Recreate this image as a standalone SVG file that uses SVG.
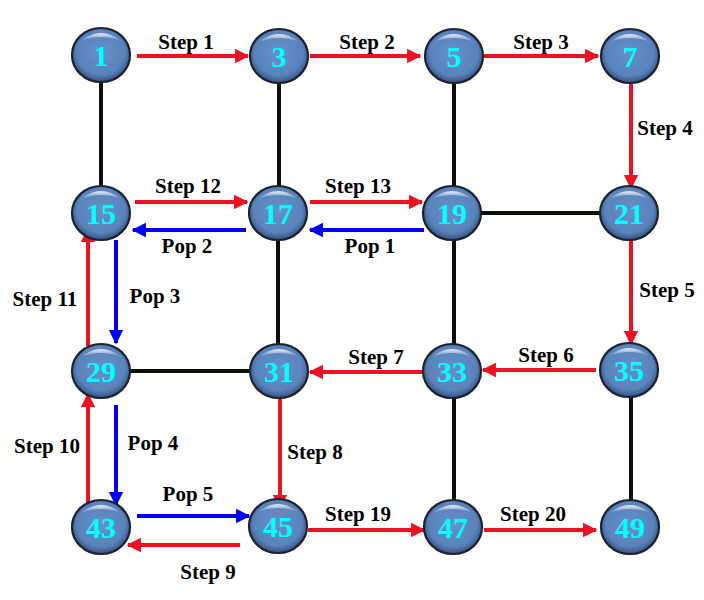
<svg xmlns="http://www.w3.org/2000/svg" width="704" height="600" viewBox="0 0 704 600">
<style>
.edge{stroke:#0a0f05;stroke-width:4;fill:none}
.red{stroke:#ee1122;stroke-width:4;fill:none;marker-end:url(#ah-red)}
.blue{stroke:#0000ff;stroke-width:4;fill:none;marker-end:url(#ah-blue)}
.lbl{font-family:"Liberation Serif","Times New Roman",serif;font-weight:bold;font-size:21px;fill:#000;text-anchor:middle}
.num{font-family:"Liberation Serif","Times New Roman",serif;font-weight:bold;font-size:30px;fill:#00ffff;text-anchor:middle}
.body{fill:url(#nodeFill);stroke:#1c2230;stroke-width:2.2}
.gloss{fill:url(#gloss)}
</style>
<defs>
<radialGradient id="nodeFill" cx="50%" cy="45%" r="55%">
<stop offset="0" stop-color="#6690c8"/>
<stop offset="0.75" stop-color="#5a82bb"/>
<stop offset="1" stop-color="#34527f"/>
</radialGradient>
<linearGradient id="gloss" x1="0" y1="0" x2="0" y2="1">
<stop offset="0" stop-color="#ffffff" stop-opacity="0.85"/>
<stop offset="1" stop-color="#ffffff" stop-opacity="0"/>
</linearGradient>
<marker id="ah-red" viewBox="0 0 10 10" refX="9" refY="5" markerWidth="3.6" markerHeight="4.4" orient="auto" markerUnits="strokeWidth">
<path d="M0,0 L10,5 L0,10 z" fill="#ee1122"/>
</marker>
<marker id="ah-blue" viewBox="0 0 10 10" refX="9" refY="5" markerWidth="3.6" markerHeight="4.4" orient="auto" markerUnits="strokeWidth">
<path d="M0,0 L10,5 L0,10 z" fill="#0000ff"/>
</marker>
<g id="nodeShape">
<ellipse class="body" cx="0" cy="0" rx="29" ry="27"/>
<path class="gloss" d="M-20,-14 Q0,-30 20,-14 Q0,-22 -20,-14 z"/>
</g>
</defs>

<g id="connectors">
<line class="edge" x1="101" y1="82" x2="101" y2="188"/>
<line class="edge" x1="279" y1="82" x2="279" y2="188"/>
<line class="edge" x1="454" y1="82" x2="454" y2="188"/>
<line class="edge" x1="481" y1="213" x2="601" y2="213"/>
<line class="edge" x1="278" y1="240" x2="278" y2="345"/>
<line class="edge" x1="454" y1="240" x2="454" y2="345"/>
<line class="edge" x1="130" y1="371" x2="250" y2="371"/>
<line class="edge" x1="454" y1="398" x2="454" y2="500"/>
<line class="edge" x1="631" y1="397" x2="631" y2="500"/>

<line class="red" x1="137" y1="56" x2="248" y2="56"/>
<line class="red" x1="310" y1="56" x2="420" y2="56"/>
<line class="red" x1="484" y1="56" x2="598" y2="56"/>
<line class="red" x1="631" y1="84" x2="631" y2="188"/>
<line class="red" x1="631" y1="240" x2="631" y2="344"/>
<line class="red" x1="596" y1="370" x2="483" y2="370"/>
<line class="red" x1="425" y1="372" x2="310" y2="372"/>
<line class="red" x1="280" y1="398" x2="280" y2="508"/>
<line class="red" x1="240" y1="545" x2="128" y2="545"/>
<line class="red" x1="88" y1="505" x2="88" y2="394"/>
<line class="red" x1="88" y1="346" x2="88" y2="229"/>
<line class="red" x1="135" y1="202" x2="247" y2="202"/>
<line class="red" x1="310" y1="202" x2="422" y2="202"/>
<line class="red" x1="308" y1="530" x2="424" y2="530"/>
<line class="red" x1="484" y1="530" x2="596" y2="530"/>

<line class="blue" x1="424" y1="230" x2="310" y2="230"/>
<line class="blue" x1="246" y1="230" x2="133" y2="230"/>
<line class="blue" x1="116" y1="240" x2="116" y2="343"/>
<line class="blue" x1="116" y1="405" x2="116" y2="505"/>
<line class="blue" x1="137" y1="516" x2="249" y2="516"/>
</g>

<g id="labels">
<text class="lbl" x="186" y="49">Step 1</text>
<text class="lbl" x="367" y="49">Step 2</text>
<text class="lbl" x="541" y="49">Step 3</text>
<text class="lbl" x="665" y="135">Step 4</text>
<text class="lbl" x="667" y="297">Step 5</text>
<text class="lbl" x="546" y="362">Step 6</text>
<text class="lbl" x="376" y="364">Step 7</text>
<text class="lbl" x="315" y="459">Step 8</text>
<text class="lbl" x="208" y="579">Step 9</text>
<text class="lbl" x="47" y="453">Step 10</text>
<text class="lbl" x="45" y="306">Step 11</text>
<text class="lbl" x="188" y="193">Step 12</text>
<text class="lbl" x="358" y="193">Step 13</text>
<text class="lbl" x="370" y="253">Pop 1</text>
<text class="lbl" x="187" y="253">Pop 2</text>
<text class="lbl" x="155" y="303">Pop 3</text>
<text class="lbl" x="153" y="450">Pop 4</text>
<text class="lbl" x="188" y="501">Pop 5</text>
<text class="lbl" x="358" y="521">Step 19</text>
<text class="lbl" x="533" y="521">Step 20</text>
</g>

<g id="n1"><use href="#nodeShape" x="101" y="55"/><text class="num" x="101" y="66">1</text></g>
<g id="n3"><use href="#nodeShape" x="279" y="56"/><text class="num" x="279" y="67">3</text></g>
<g id="n5"><use href="#nodeShape" x="454" y="56"/><text class="num" x="454" y="67">5</text></g>
<g id="n7"><use href="#nodeShape" x="630" y="56"/><text class="num" x="630" y="67">7</text></g>
<g id="n15"><use href="#nodeShape" x="101" y="213"/><text class="num" x="101" y="224">15</text></g>
<g id="n17"><use href="#nodeShape" x="278" y="213"/><text class="num" x="278" y="224">17</text></g>
<g id="n19"><use href="#nodeShape" x="452" y="213"/><text class="num" x="452" y="224">19</text></g>
<g id="n21"><use href="#nodeShape" x="629" y="213"/><text class="num" x="629" y="224">21</text></g>
<g id="n29"><use href="#nodeShape" x="101" y="371"/><text class="num" x="101" y="382">29</text></g>
<g id="n31"><use href="#nodeShape" x="279" y="371"/><text class="num" x="279" y="382">31</text></g>
<g id="n33"><use href="#nodeShape" x="452" y="371"/><text class="num" x="452" y="382">33</text></g>
<g id="n35"><use href="#nodeShape" x="629" y="370"/><text class="num" x="629" y="381">35</text></g>
<g id="n43"><use href="#nodeShape" x="101" y="527"/><text class="num" x="101" y="538">43</text></g>
<g id="n45"><use href="#nodeShape" x="278" y="526"/><text class="num" x="278" y="537">45</text></g>
<g id="n47"><use href="#nodeShape" x="453" y="527"/><text class="num" x="453" y="538">47</text></g>
<g id="n49"><use href="#nodeShape" x="630" y="527"/><text class="num" x="630" y="538">49</text></g>
</svg>
